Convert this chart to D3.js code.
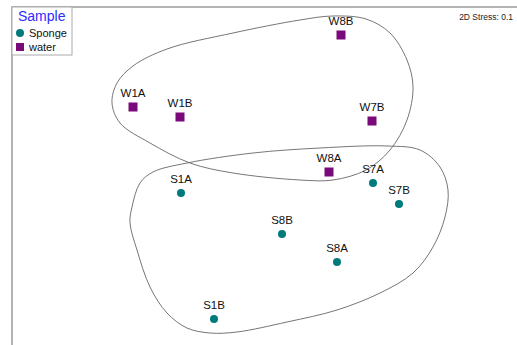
<!DOCTYPE html>
<html>
<head>
<meta charset="utf-8">
<script src="https://cdn.jsdelivr.net/npm/d3@7"></script>
<style>
  html, body { margin: 0; padding: 0; background: #fff; }
  svg { display: block; font-family: "Liberation Sans", Arial, sans-serif; }
</style>
</head>
<body>
<svg id="chart" width="517" height="345"></svg>
<script>
// NMDS ordination of samples (2D)
const sampleNames = ["W8B", "W1A", "W1B", "W7B", "W8A", "S7A", "S7B", "S1A", "S8B", "S8A", "S1B"];
const sampleGroup = ["water", "water", "water", "water", "water", "Sponge", "Sponge", "Sponge", "Sponge", "Sponge", "Sponge"];
const mds1 = [0.73, -1.35, -0.88, 1.04, 0.61, 1.05, 1.31, -0.87, 0.14, 0.69, -0.54];
const mds2 = [1.41, 0.69, 0.59, 0.55, 0.04, -0.07, -0.28, -0.17, -0.58, -0.86, -1.43];

// group outlines (smooth closed contours in ordination space)
const waterHullX = [-1.56, -1.51, -1.35, -1.01, -0.35, 0.32, 0.65, 0.98, 1.22, 1.39, 1.45, 1.39, 1.22, 0.98, 0.65, 0.32, -0.35, -0.78, -1.18, -1.48];
const waterHullY = [0.73, 0.93, 1.10, 1.27, 1.43, 1.56, 1.60, 1.57, 1.43, 1.16, 0.89, 0.56, 0.26, 0.06, -0.04, -0.04, 0.03, 0.13, 0.33, 0.53];
const spongeHullX = [-1.36, -1.28, -1.15, -0.81, -0.15, 0.52, 1.19, 1.52, 1.72, 1.80, 1.77, 1.65, 1.45, 1.12, 0.69, 0.19, -0.31, -0.58, -0.81, -1.01, -1.18, -1.31, -1.38];
const spongeHullY = [-0.31, -0.07, 0.04, 0.13, 0.23, 0.28, 0.30, 0.26, 0.09, -0.14, -0.41, -0.71, -0.97, -1.17, -1.34, -1.46, -1.56, -1.57, -1.52, -1.37, -1.11, -0.74, -0.47];

const legendTitle = "Sample";
const legendGroups = ["Sponge", "water"];
const stressText = "2D Stress: 0.1";

const groupColor = { Sponge: "#007b7b", water: "#7a0a7a" };

const svg = d3.select("#chart");

const x = d3.scaleLinear().domain([-1, 1]).range([168, 368]);
const y = d3.scaleLinear().domain([-1, 1]).range([276, 76]);

// plot frame (left and top edges visible)
svg.append("rect")
  .attr("x", 12).attr("y", 7)
  .attr("width", 600).attr("height", 400)
  .attr("fill", "none")
  .attr("stroke", "#9a9a9a")
  .attr("stroke-width", 1.5);

// group outlines
const outline = d3.line()
  .x(d => x(d[0]))
  .y(d => y(d[1]))
  .curve(d3.curveCatmullRomClosed.alpha(0.5));

[[waterHullX, waterHullY], [spongeHullX, spongeHullY]].forEach(([hx, hy]) => {
  svg.append("path")
    .datum(hx.map((v, i) => [v, hy[i]]))
    .attr("d", outline)
    .attr("fill", "none")
    .attr("stroke", "#666")
    .attr("stroke-width", 0.9);
});

const samples = sampleNames.map((n, i) => ({ name: n, group: sampleGroup[i], x: mds1[i], y: mds2[i] }));

// markers
samples.forEach(s => {
  const cx = x(s.x), cy = y(s.y);
  if (s.group === "Sponge") {
    svg.append("circle").attr("cx", cx).attr("cy", cy).attr("r", 4)
      .attr("fill", groupColor.Sponge);
  } else {
    svg.append("rect").attr("x", cx - 4.5).attr("y", cy - 4.5)
      .attr("width", 9).attr("height", 9)
      .attr("fill", groupColor.water);
  }
  svg.append("text")
    .attr("x", cx).attr("y", cy - 10.5)
    .attr("text-anchor", "middle")
    .attr("font-size", 11.5)
    .attr("fill", "#111")
    .text(s.name);
});

// stress annotation
svg.append("text")
  .attr("x", 513).attr("y", 20)
  .attr("text-anchor", "end")
  .attr("font-size", 8.5)
  .attr("fill", "#222")
  .text(stressText);

// legend
const lg = svg.append("g");
lg.append("rect")
  .attr("x", 12).attr("y", 7).attr("width", 60).attr("height", 48)
  .attr("fill", "#fff").attr("stroke", "#aaa").attr("stroke-width", 1);
lg.append("text")
  .attr("x", 18).attr("y", 21)
  .attr("font-size", 14)
  .attr("fill", "#2b2bff")
  .text(legendTitle);
legendGroups.forEach((g, i) => {
  const cy = 33 + i * 14;
  if (g === "Sponge") {
    lg.append("circle").attr("cx", 20).attr("cy", cy).attr("r", 4).attr("fill", groupColor[g]);
  } else {
    lg.append("rect").attr("x", 16).attr("y", cy - 4).attr("width", 8).attr("height", 8).attr("fill", groupColor[g]);
  }
  lg.append("text")
    .attr("x", 29).attr("y", cy + 4)
    .attr("font-size", 11)
    .attr("fill", "#111")
    .text(g);
});
</script>
</body>
</html>
